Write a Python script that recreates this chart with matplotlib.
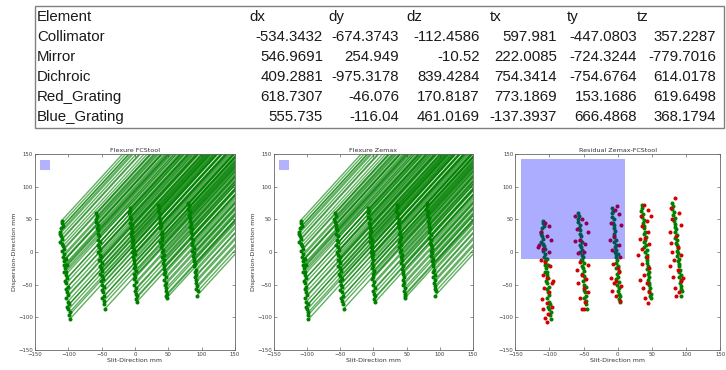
import matplotlib
matplotlib.use("Agg")
import matplotlib.pyplot as plt
from matplotlib.collections import LineCollection
from matplotlib.patches import Rectangle

# ---- table (screenshot of the spreadsheet at the top) ----
table_cols = ["dx", "dy", "dz", "tx", "ty", "tz"]
elements = ["Collimator", "Mirror", "Dichroic", "Red_Grating", "Blue_Grating"]
dx = ["-534.3432", "546.9691", "409.2881", "618.7307", "555.735"]
dy = ["-674.3743", "254.949", "-975.3178", "-46.076", "-116.04"]
dz = ["-112.4586", "-10.52", "839.4284", "170.8187", "461.0169"]
tx = ["597.981", "222.0085", "754.3414", "773.1869", "-137.3937"]
ty = ["-447.0803", "-724.3244", "-754.6764", "153.1686", "666.4868"]
tz = ["357.2287", "-779.7016", "614.0178", "619.6498", "368.1794"]

# ---- spot positions (mm), one list per slit column ----
col1_x = [-110, -109, -108, -111, -112, -113, -111, -110, -112, -110, -108, -107, -109, -106,
          -108, -105, -103, -107, -106, -104, -102, -105, -106, -103, -104, -102, -105, -103,
          -101, -104, -102, -100, -103, -101, -99, -102, -100, -98, -99, -98]
col1_y = [48, 44, 40, 36, 31, 27, 24, 20, 16, 12, 9, 5, 1, -3,
          -8, -10, -10, -14, -20, -20, -20, -25, -30, -30, -35, -40, -44, -48,
          -53, -57, -62, -66, -71, -76, -80, -84, -88, -92, -97, -103]
col2_x = [-58, -57, -59, -58, -56, -57, -55, -56, -54, -55, -53, -56, -54, -52, -55, -53, -51, -54,
          -52, -50, -53, -51, -49, -52, -50, -48, -51, -49, -47, -50, -48, -46, -49, -47, -46, -45]
col2_y = [60, 55, 51, 46, 42, 37, 33, 28, 24, 19, 15, 11, 7, 3, 0, -4, -8, -13,
          -13, -17, -21, -25, -29, -33, -37, -41, -45, -50, -54, -58, -62, -67, -71, -75, -80, -87]
col3_x = [-8, -7, -9, -8, -6, -7, -5, -6, -4, -6, -5, -3, -5, -3, -4, -2, -4, -2,
          0, -3, -1, -2, 0, -2, 1, -1, 0, -2, 1, -1, 2, 0, 1, 3, 1, 3]
col3_y = [68, 63, 59, 54, 50, 45, 41, 36, 32, 28, 23, 19, 15, 11, 7, 3, 0, -3,
          -3, -8, -12, -17, -21, -25, -29, -34, -38, -42, -46, -51, -55, -59, -64, -68, -72, -76]
col4_x = [35, 36, 34, 37, 36, 38, 37, 39, 38, 40, 39, 41, 40, 38, 41, 39, 42, 40,
          43, 41, 43, 42, 44, 43, 45, 44, 46, 44, 46, 45, 47, 46, 48, 47, 48]
col4_y = [72, 67, 63, 58, 54, 49, 45, 40, 36, 31, 27, 23, 19, 15, 11, 7, 3, 0,
          -4, -8, -13, -17, -21, -26, -30, -34, -38, -43, -47, -51, -55, -60, -64, -67, -70]
col5_x = [80, 81, 79, 82, 81, 83, 82, 84, 83, 85, 84, 86, 84, 87, 85, 86, 88,
          86, 88, 87, 89, 88, 90, 89, 91, 90, 92, 90, 92, 91, 93, 92, 94, 93]
col5_y = [75, 70, 66, 61, 57, 52, 48, 43, 39, 35, 30, 26, 22, 18, 14, 10, 6,
          2, -2, -6, -10, -14, -18, -22, -27, -31, -35, -39, -43, -47, -52, -56, -60, -67]

# flexure displacement drawn from every spot (mm, exaggerated)
flex_dx = 260
flex_dy = 290

# ---- residual plot: second set of spots (red) ----
red_x = [-107, -101, -112, -104, -115, -98, -110, -101, -113, -106, -99, -110, -103, -96,
         -108, -100, -111, -104, -97, -109, -102, -106, -104, -117, -95,
         -53, -47, -60, -55, -62, -48, -58, -50, -56, -44, -60, -52, -46, -58, -50, -44,
         -55, -48, -53, -50, -43, -62,
         -4, 2, -10, 5, -12, -6, 1, -9, 3, -7, 0, -10, -3, 4, -8, -2, 3, -6, 2, -1,
         38, 44, 34, 42, 35, 44, 33, 40, 45, 36, 30, 42, 35, 45, 38, 33, 43, 37, 46, 40, 44, 49,
         84, 78, 90, 80, 92, 76, 85, 78, 88, 80, 92, 82, 76, 88, 81, 93, 84, 90, 85, 96]
red_y = [45, 40, 30, 25, 10, 18, 5, 0, -12, -15, -22, -35, -40, -48,
         -55, -62, -72, -78, -84, -88, -95, -101, -107, 8, -45,
         50, 45, 35, 18, 17, 12, -2, 0, -15, -20, -27, -35, -42, -48, -55, -62,
         -70, -77, -87, -87, 30, 55,
         65, 58, 45, 42, 18, 25, 10, 3, -8, -18, -25, -40, -45, -52, -60, -68, -75, -48, -30, 70,
         72, 65, 55, 48, 40, 30, 20, 22, 12, 5, -5, -8, -18, -25, -35, -43, -48, -55, -62, -70, -78, 55,
         82, 68, 60, 50, 42, 30, 25, 14, 8, 0, -5, -12, -22, -28, -38, -45, -55, -62, -68, -40]

spot_x = col1_x + col2_x + col3_x + col4_x + col5_x
spot_y = col1_y + col2_y + col3_y + col4_y + col5_y

GREEN = "#008000"
RED = "#d40000"


def style_axes(ax, title, ylabel=True):
    ax.set_xlim(-150, 150)
    ax.set_ylim(-150, 150)
    ax.set_xticks(range(-150, 151, 50))
    ax.set_yticks(range(-150, 151, 50))
    ax.tick_params(direction="in", top=True, right=True, length=2, width=0.4,
                   labelsize=3.9, pad=1.5, colors="0.25")
    for s in ax.spines.values():
        s.set_linewidth(0.6)
        s.set_color("0.4")
    ax.set_title(title, fontsize=4.6, pad=1.5, color="0.2")
    ax.set_xlabel("Slit-Direction mm", fontsize=4.5, labelpad=1, color="0.2")
    if ylabel:
        ax.set_ylabel("Dispersion-Direction mm", fontsize=4.5, labelpad=1, color="0.2")


def flexure_panel(ax, title):
    segs = [[(x, y), (x + flex_dx, y + flex_dy)] for x, y in zip(spot_x, spot_y)]
    ax.add_collection(LineCollection(segs, colors=GREEN, linewidths=1.0, alpha=0.62, zorder=1))
    ax.plot(spot_x, spot_y, "o", ms=1.9, color=GREEN, mec=GREEN, zorder=2)
    ax.add_patch(Rectangle((-143, 126), 15, 15, color="blue", alpha=0.3, lw=0, zorder=3))
    style_axes(ax, title)


fig = plt.figure(figsize=(7.26, 3.70), dpi=100)

# table drawn in pixel coordinates of the figure
tab = fig.add_axes([0, 0, 1, 1])
tab.set_xlim(0, 726)
tab.set_ylim(370, 0)
tab.axis("off")
tab.add_patch(Rectangle((35, 6), 689, 122, fill=False, ec="0.5", lw=1.0))
tfont = dict(family="Liberation Sans", fontsize=10.8, color="0.1", va="center")
row_y = [17, 37, 57, 77, 97, 117]
head_x = [249, 328, 406, 490, 567, 637]
num_right = [323, 399, 480, 557, 637, 716]
tab.text(37, row_y[0], "Element", ha="left", **tfont)
for name, hx in zip(table_cols, head_x):
    tab.text(hx, row_y[0], name, ha="left", **tfont)
for i, el in enumerate(elements):
    tab.text(37, row_y[i + 1], el, ha="left", **tfont)
    for vals, rx in zip([dx, dy, dz, tx, ty, tz], num_right):
        tab.text(rx, row_y[i + 1], vals[i], ha="right", **tfont)

ax1 = fig.add_axes([0.0482, 0.0541, 0.2755, 0.5297])
ax2 = fig.add_axes([0.3774, 0.0541, 0.2741, 0.5297])
ax3 = fig.add_axes([0.7098, 0.0541, 0.2824, 0.5297])

flexure_panel(ax1, "Flexure FCStool")
flexure_panel(ax2, "Flexure Zemax")

ax3.plot(spot_x, spot_y, "o", ms=1.9, color=GREEN, mec=GREEN, zorder=2)
ax3.plot(red_x, red_y, "o", ms=1.9, color=RED, mec=RED, zorder=2)
ax3.add_patch(Rectangle((-142, -10), 152, 152, color="blue", alpha=0.32, lw=0, zorder=3))
style_axes(ax3, "Residual Zemax-FCStool", ylabel=False)

fig.savefig("out.png", dpi=100)
